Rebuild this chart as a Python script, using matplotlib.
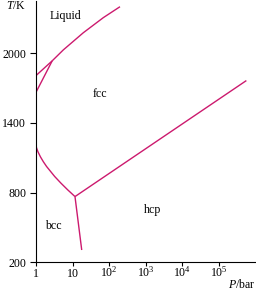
import matplotlib
matplotlib.use("Agg")
import matplotlib.pyplot as plt

plt.rcParams["font.family"] = "Liberation Serif"
plt.rcParams["mathtext.fontset"] = "custom"
plt.rcParams["mathtext.rm"] = "Liberation Serif"
plt.rcParams["mathtext.it"] = "Liberation Serif:italic"

# fases del hierro: presion (bar) y temperatura (K)
delta_liq_p = [1, 2.78]
delta_liq_t = [1807, 1934]

liq_fcc_p = [2.78, 5.6, 19.8, 70, 200]
liq_fcc_t = [1934, 2028, 2176, 2306, 2400]

delta_fcc_p = [1, 2.78]
delta_fcc_t = [1663, 1934]

bcc_fcc_p = [1, 1.03, 1.13, 1.32, 1.59, 1.95, 3.25, 4.81, 7.39, 11.7]
bcc_fcc_t = [1212, 1186, 1151, 1108, 1065, 1024, 938, 881, 823, 765]

bcc_hcp_p = [11.7, 17.9]
bcc_hcp_t = [765, 305]

fcc_hcp_p = [11.7, 5.8e5]
fcc_hcp_t = [765, 1764]

x_ticks = [1, 10, 1e2, 1e3, 1e4, 1e5]
x_labels = ["1", "10", "$10^{2}$", "$10^{3}$", "$10^{4}$", "$10^{5}$"]
y_ticks = [200, 800, 1400, 2000]

color = "#cc1a6e"
fs = 8.6

fig = plt.figure(figsize=(2.56, 3.0), dpi=100)
ax = fig.add_axes([36 / 256, 0.126, 219 / 256, 0.871])

for p, t in [(delta_liq_p, delta_liq_t), (liq_fcc_p, liq_fcc_t),
             (delta_fcc_p, delta_fcc_t), (bcc_fcc_p, bcc_fcc_t),
             (bcc_hcp_p, bcc_hcp_t), (fcc_hcp_p, fcc_hcp_t)]:
    ax.plot(p, t, color=color, lw=1.0, solid_capstyle="butt",
            solid_joinstyle="round")

ax.set_xscale("log")
ax.set_xlim(1, 1e6)
ax.set_ylim(200, 2450)
ax.set_xticks(x_ticks)
ax.set_xticklabels(x_labels)
ax.minorticks_off()
ax.set_yticks(y_ticks)
ax.tick_params(axis="y", direction="out", length=4, width=0.8, labelsize=fs, pad=3)
ax.tick_params(axis="x", direction="out", length=3, width=0.8, labelsize=fs, pad=7.5)
for lab in ax.get_xticklabels():
    lab.set_verticalalignment("baseline")
ax.spines["top"].set_visible(False)
ax.spines["right"].set_visible(False)
for s in ["left", "bottom"]:
    ax.spines[s].set_linewidth(0.8)

ax.text(6.6, 2319, "Liquid", fontsize=fs, ha="center", va="center")
ax.text(56, 1652, "fcc", fontsize=fs, ha="center", va="center")
ax.text(3.0, 512, "bcc", fontsize=fs, ha="center", va="center")
ax.text(1580, 651, "hcp", fontsize=fs, ha="center", va="center")

fig.text(16 / 256, 1 - 6 / 300, "$\\it{T}$/K", fontsize=fs, ha="center", va="center")
fig.text(1.0, 1 - 285 / 300, "$\\it{P}$/bar", fontsize=fs, ha="right", va="center")

fig.savefig("out.png", dpi=100)
